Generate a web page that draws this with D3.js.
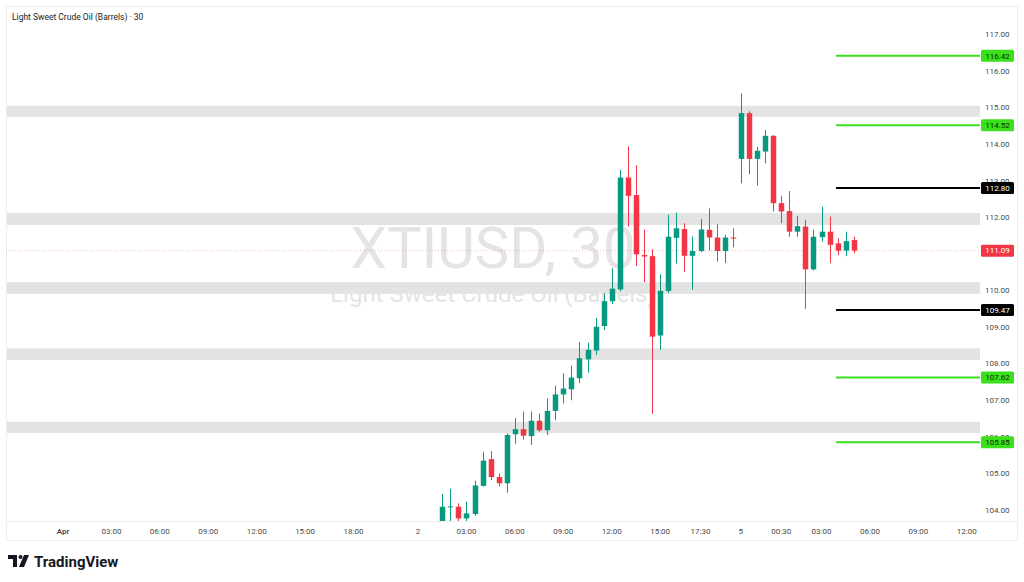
<!DOCTYPE html>
<html>
<head>
<meta charset="utf-8">
<script src="https://cdn.jsdelivr.net/npm/d3@7"></script>
<style>
  html, body { margin: 0; padding: 0; background: #fff; }
  svg { display: block; font-family: Roboto, 'Noto Sans', sans-serif; }
</style>
</head>
<body>
<script>
  'use strict'
  // 30 min candles, index 0 = Apr 1 00:00 (compressed session time)
  const firstCandle = 47
  const opens = [103.60, 104.08, 104.09, 103.77, 103.89, 104.66, 105.39, 104.90, 104.73, 106.07,
    106.21, 106.02, 106.44, 106.18, 106.71, 107.16, 107.30, 107.60, 108.12, 108.36,
    109.03, 109.71, 110.03, 113.09, 112.61, 110.97, 110.94, 108.77, 109.99, 111.44,
    111.68, 110.95, 111.08, 111.66, 111.45, 111.08, 111.45, 113.60, 114.85, 113.60,
    113.80, 114.23, 112.39, 112.17, 111.61, 111.75, 110.58, 111.46, 111.61, 111.29,
    111.09, 111.38]
  const highs = [104.44, 104.58, 104.18, 104.23, 104.80, 105.59, 105.61, 105.00, 106.10, 106.51,
    106.69, 106.69, 106.64, 107.05, 107.40, 107.74, 107.95, 108.59, 108.57, 109.25,
    109.93, 110.61, 113.30, 113.94, 113.43, 111.67, 111.13, 110.44, 112.07, 112.13,
    111.84, 111.48, 111.95, 112.25, 111.81, 111.52, 111.70, 115.39, 114.90, 113.93,
    114.39, 114.25, 112.59, 112.72, 112.04, 111.93, 111.67, 112.29, 112.02, 111.43,
    111.61, 111.47]
  const lows = [103.50, 103.55, 103.68, 103.70, 103.84, 104.64, 104.82, 104.64, 104.47, 105.81,
    105.93, 105.78, 106.14, 106.05, 106.46, 106.91, 107.00, 107.47, 107.75, 108.24,
    108.92, 109.63, 109.98, 111.75, 110.67, 110.23, 106.63, 108.38, 109.93, 110.74,
    110.51, 110.02, 111.05, 111.09, 110.79, 110.75, 111.18, 112.93, 113.18, 112.87,
    113.48, 112.16, 111.84, 111.47, 111.47, 109.50, 110.55, 111.34, 110.75, 110.97,
    110.94, 111.02]
  const closes = [104.09, 104.10, 103.77, 103.91, 104.67, 105.35, 104.90, 104.73, 106.05, 106.21,
    106.03, 106.44, 106.18, 106.71, 107.16, 107.32, 107.62, 108.15, 108.38, 109.01,
    109.71, 110.05, 113.09, 112.59, 110.99, 110.93, 108.74, 109.99, 111.47, 111.70,
    110.95, 111.08, 111.67, 111.45, 111.08, 111.45, 111.42, 114.85, 113.60, 113.82,
    114.23, 112.39, 112.16, 111.61, 111.76, 110.58, 111.47, 111.61, 111.25, 111.09,
    111.35, 111.09]

  const timeTicks = [0, 6, 12, 18, 24, 30, 36, 44, 50, 56, 62, 68, 74, 79, 84, 89, 94, 100, 106, 112]
  const timeLabels = ['Apr', '03:00', '06:00', '09:00', '12:00', '15:00', '18:00', '2', '03:00', '06:00',
    '09:00', '12:00', '15:00', '17:30', '5', '00:30', '03:00', '06:00', '09:00', '12:00']
  const priceTicks = d3.range(104, 118, 1)

  // grey zones [low, high]
  const zoneLows = [114.75, 111.79, 109.91, 108.10, 106.10]
  const zoneHighs = [115.05, 112.12, 110.23, 108.42, 106.41]

  // horizontal levels drawn from candle index levelStart to the price axis
  const levelPrices = [116.42, 114.52, 112.80, 109.47, 107.62, 105.85]
  const levelKinds = ['green', 'green', 'black', 'black', 'green', 'green']
  const levelStart = 95.8
  const lastPrice = 111.09

  const W = 1024, H = 582
  const pane = {left: 6, right: 980, top: 6, bottom: 521}
  const axisBottom = 540
  const upColor = '#089981', downColor = '#f23645'
  const levelColors = {green: '#3be01c', black: '#000000'}

  const x = d3.scaleLinear().domain([0, 112]).range([63, 966.8])
  const y = d3.scaleLinear().domain([104, 117]).range([510, 34.5])

  const candles = opens.map((o, k) => ({
    i: firstCandle + k, o: o, h: highs[k], l: lows[k], c: closes[k]
  }))

  const svg = d3.select('body').append('svg')
    .attr('width', W)
    .attr('height', H)

  svg.append('rect').attr('width', W).attr('height', H).attr('fill', '#fff')

  svg.append('defs').append('clipPath').attr('id', 'pane')
    .append('rect')
    .attr('x', pane.left).attr('y', pane.top)
    .attr('width', pane.right - pane.left).attr('height', pane.bottom - pane.top)

  // frame
  svg.append('rect')
    .attr('x', pane.left + 0.5).attr('y', pane.top + 0.5)
    .attr('width', 1017 - pane.left).attr('height', axisBottom - pane.top)
    .attr('fill', 'none').attr('stroke', '#eeeeee')
  svg.append('line')
    .attr('x1', pane.left).attr('x2', 1017)
    .attr('y1', pane.bottom + 0.5).attr('y2', pane.bottom + 0.5)
    .attr('stroke', '#eeeeee')

  const plot = svg.append('g').attr('clip-path', 'url(#pane)')

  // watermark
  const cx = (pane.left + pane.right) / 2
  plot.append('text')
    .attr('x', cx).attr('y', 268)
    .attr('text-anchor', 'middle')
    .attr('font-size', 58)
    .attr('fill', '#e4e4e4')
    .text('XTIUSD, 30')
  plot.append('text')
    .attr('x', cx).attr('y', 302)
    .attr('text-anchor', 'middle')
    .attr('font-size', 24)
    .attr('fill', '#e4e4e4')
    .text('Light Sweet Crude Oil (Barrels)')

  // zones
  plot.selectAll('rect.zone')
    .data(zoneLows)
    .enter().append('rect')
    .attr('class', 'zone')
    .attr('x', pane.left + 1)
    .attr('width', pane.right - pane.left - 1)
    .attr('y', (d, k) => y(zoneHighs[k]))
    .attr('height', (d, k) => y(d) - y(zoneHighs[k]))
    .attr('fill', '#e3e3e3')

  // last price line
  plot.append('line')
    .attr('x1', pane.left).attr('x2', pane.right)
    .attr('y1', y(lastPrice)).attr('y2', y(lastPrice))
    .attr('stroke', downColor).attr('stroke-opacity', 0.35)
    .attr('stroke-dasharray', '1,2')

  // levels
  plot.selectAll('line.level')
    .data(levelPrices)
    .enter().append('line')
    .attr('class', 'level')
    .attr('x1', x(levelStart)).attr('x2', pane.right)
    .attr('y1', d => y(d)).attr('y2', d => y(d))
    .attr('stroke', (d, k) => levelColors[levelKinds[k]])
    .attr('stroke-width', 2)

  // candles
  const bw = (x(1) - x(0)) * 0.68
  const cg = plot.selectAll('g.candle')
    .data(candles)
    .enter().append('g')
    .attr('class', 'candle')
    .attr('fill', d => d.c >= d.o ? upColor : downColor)
    .attr('stroke', d => d.c >= d.o ? upColor : downColor)
  cg.append('line')
    .attr('x1', d => Math.round(x(d.i)) + 0.5)
    .attr('x2', d => Math.round(x(d.i)) + 0.5)
    .attr('y1', d => y(d.h))
    .attr('y2', d => y(d.l))
    .attr('stroke-width', 1)
  cg.append('rect')
    .attr('x', d => Math.round(x(d.i)) + 0.5 - bw / 2)
    .attr('width', bw)
    .attr('y', d => y(Math.max(d.o, d.c)))
    .attr('height', d => Math.max(1, y(Math.min(d.o, d.c)) - y(Math.max(d.o, d.c))))
    .attr('stroke', 'none')

  // price axis (tick hidden where the last price label sits on it)
  const yAxis = svg.append('g')
  yAxis.selectAll('text')
    .data(priceTicks.filter(t => Math.abs(y(t) - y(lastPrice)) > 5))
    .enter().append('text')
    .attr('x', 985)
    .attr('y', d => y(d))
    .attr('dy', '0.35em')
    .attr('font-size', 8)
    .attr('fill', '#4a4a4a')
    .text(d => d.toFixed(2))

  const labelItems = levelPrices.map((p, k) => ({p: p, kind: levelKinds[k]}))
    .concat([{p: lastPrice, kind: 'last'}])
  const lab = svg.append('g').selectAll('g')
    .data(labelItems)
    .enter().append('g')
    .attr('transform', d => `translate(981, ${y(d.p)})`)
  lab.append('rect')
    .attr('x', 0).attr('y', -6)
    .attr('width', 33).attr('height', 12)
    .attr('rx', 1.5)
    .attr('fill', d => d.kind === 'last' ? downColor : levelColors[d.kind])
  lab.append('text')
    .attr('x', 16.5).attr('dy', '0.35em')
    .attr('text-anchor', 'middle')
    .attr('font-size', 8)
    .attr('fill', d => d.kind === 'green' ? '#0b2a06' : '#ffffff')
    .text(d => d.p.toFixed(2))

  // time axis
  svg.append('g').selectAll('text')
    .data(timeTicks)
    .enter().append('text')
    .attr('x', d => x(d))
    .attr('y', 534)
    .attr('text-anchor', 'middle')
    .attr('font-size', 8)
    .attr('fill', '#4a4a4a')
    .attr('font-weight', (d, k) => timeLabels[k] === 'Apr' ? 600 : 400)
    .text((d, k) => timeLabels[k])

  // title
  svg.append('text')
    .attr('x', 12).attr('y', 20)
    .attr('font-size', 8.5)
    .attr('fill', '#222')
    .text('Light Sweet Crude Oil (Barrels) · 30')

  // TradingView logo
  const logo = svg.append('g').attr('transform', 'translate(8, 555)')
  logo.append('path')
    .attr('d', 'M0,0 H9 V12 H5 V4 H0 Z')
    .attr('fill', '#131722')
  logo.append('circle').attr('cx', 12.5).attr('cy', 2).attr('r', 2).attr('fill', '#131722')
  logo.append('path')
    .attr('d', 'M16,0 H21 L16,12 H11 Z')
    .attr('fill', '#131722')
  svg.append('text')
    .attr('x', 34).attr('y', 567)
    .attr('font-size', 15)
    .attr('font-weight', 700)
    .attr('fill', '#131722')
    .text('TradingView')
</script>
</body>
</html>
